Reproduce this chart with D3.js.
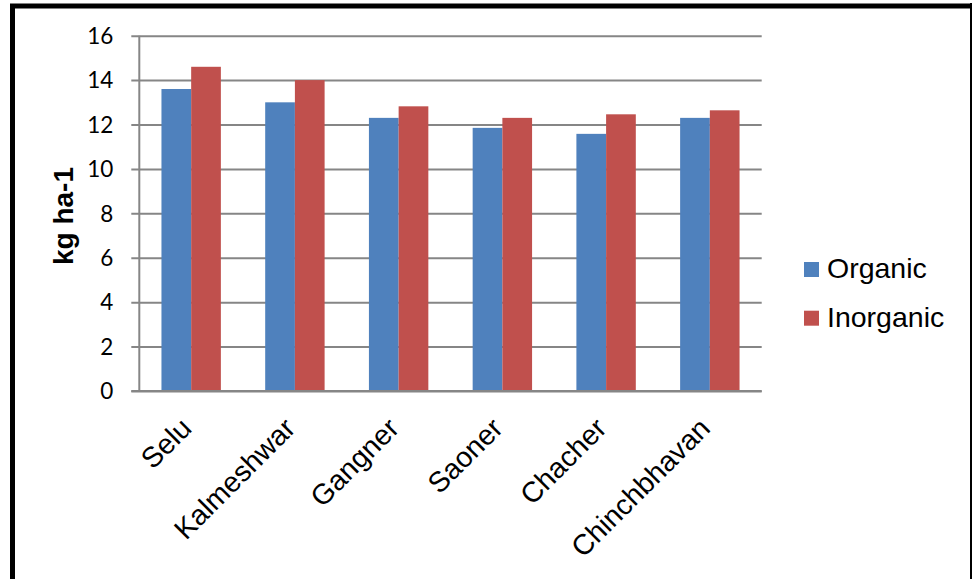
<!DOCTYPE html>
<html>
<head>
<meta charset="utf-8">
<script src="https://cdn.jsdelivr.net/npm/d3@7"></script>
<style>
  html, body { margin: 0; padding: 0; background: #fff; }
  svg { display: block; }
</style>
</head>
<body>
<svg id="chart" width="972" height="579"></svg>
<script>
// Available nitrogen by location (kg ha-1)
const locations = ["Selu", "Kalmeshwar", "Gangner", "Saoner", "Chacher", "Chinchbhavan"];
const seriesNames = ["Organic", "Inorganic"];
const organic = [13.6, 13.0, 12.3, 11.85, 11.58, 12.3];
const inorganic = [14.6, 14.0, 12.82, 12.3, 12.46, 12.64];
const yTicks = [0, 2, 4, 6, 8, 10, 12, 14, 16];
const colors = ["#4F81BD", "#C0504D"];

const svg = d3.select("#chart");
const values = [organic, inorganic];

const plotLeft = 139.3, plotRight = 761.7, plotTop = 35.7, plotBottom = 391;

const y = d3.scaleLinear().domain([0, 16]).range([plotBottom, plotTop]);
const x0 = d3.scaleBand().domain(locations).range([plotLeft, plotRight]).paddingInner(0).paddingOuter(0);
const x1 = d3.scaleBand().domain(seriesNames).range([0, x0.bandwidth()]).paddingInner(0).paddingOuter(0.746);

// outer frame
svg.append("rect").attr("x", 12.5).attr("y", 6).attr("width", 970).attr("height", 600)
  .attr("fill", "none").attr("stroke", "#000").attr("stroke-width", 5);
svg.append("line").attr("x1", 971).attr("x2", 971).attr("y1", 3).attr("y2", 579)
  .attr("stroke", "#000").attr("stroke-width", 2);

// gridlines + y axis
const yAxis = d3.axisLeft(y).tickValues(yTicks).tickSize(-(plotRight - plotLeft)).tickPadding(0).tickFormat(d3.format("d"));
const gy = svg.append("g").attr("transform", `translate(${plotLeft},0)`).call(yAxis);
gy.select(".domain").remove();
gy.selectAll(".tick line")
  .attr("x1", -8)
  .attr("stroke", "#868686").attr("stroke-width", 2);
gy.selectAll(".tick text")
  .attr("x", -26)
  .attr("dy", "0.34em")
  .attr("fill", "#000")
  .style("font-family", "Lato, 'Liberation Sans', sans-serif")
  .style("font-size", "22.5px");

// y axis line
svg.append("line").attr("x1", plotLeft).attr("x2", plotLeft).attr("y1", plotTop).attr("y2", plotBottom)
  .attr("stroke", "#868686").attr("stroke-width", 2);

// bars
const groups = svg.append("g").selectAll("g")
  .data(locations)
  .join("g")
  .attr("transform", d => `translate(${x0(d)},0)`);

groups.selectAll("rect")
  .data((d, i) => seriesNames.map((s, j) => ({ s, v: values[j][i], c: colors[j] })))
  .join("rect")
  .attr("x", d => x1(d.s))
  .attr("width", x1.bandwidth())
  .attr("y", d => y(d.v))
  .attr("height", d => y(0) - y(d.v))
  .attr("fill", d => d.c);

// x axis baseline
svg.append("line").attr("x1", plotLeft - 8).attr("x2", plotRight).attr("y1", plotBottom).attr("y2", plotBottom)
  .attr("stroke", "#868686").attr("stroke-width", 2);

// category labels, rotated
const xAxis = d3.axisBottom(x0).tickSize(0).tickPadding(0);
const gx = svg.append("g").attr("transform", `translate(0,${plotBottom})`).call(xAxis);
gx.select(".domain").remove();
gx.selectAll(".tick text")
  .attr("text-anchor", "end")
  .attr("dy", 0)
  .attr("y", 0)
  .attr("transform", "translate(2,39) rotate(-45)")
  .attr("fill", "#000")
  .style("font-family", "'Liberation Sans', Arial, sans-serif")
  .style("font-size", "28.5px");

// y title
svg.append("text")
  .attr("transform", `translate(73,216) rotate(-90)`)
  .attr("text-anchor", "middle")
  .style("font-family", "'Liberation Sans', Arial, sans-serif")
  .style("font-weight", "bold")
  .style("font-size", "28px")
  .text("kg ha-1");

// legend
const legend = svg.append("g").attr("transform", "translate(804,262)");
const li = legend.selectAll("g").data(seriesNames).join("g")
  .attr("transform", (d, i) => `translate(0,${i * 48.7})`);
li.append("rect").attr("width", 15).attr("height", 15).attr("fill", (d, i) => colors[i]);
li.append("text").attr("x", 23).attr("y", 16)
  .style("font-family", "'Liberation Sans', Arial, sans-serif")
  .style("font-size", "28.5px")
  .text(d => d);
</script>
</body>
</html>
